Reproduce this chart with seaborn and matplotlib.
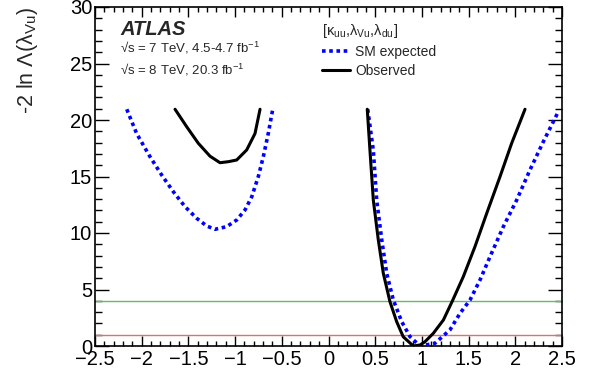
import matplotlib
matplotlib.use("Agg")
import matplotlib.pyplot as plt
import seaborn as sns
import pandas as pd
from matplotlib.ticker import MultipleLocator, FuncFormatter
from matplotlib.lines import Line2D

# ---- data ----
exp_left_x = [-2.16, -2.054, -1.911, -1.786, -1.662, -1.536, -1.411, -1.304, -1.215, -1.09, -0.983,
              -0.894, -0.822, -0.752, -0.698, -0.645, -0.597]
exp_left_y = [20.95, 18.8, 16.75, 15.13, 13.66, 12.33, 11.3, 10.62, 10.33, 10.56, 11.15,
              12.04, 13.2, 14.98, 16.75, 18.8, 20.95]
obs_left_x = [-1.643, -1.518, -1.394, -1.269, -1.162, -1.073, -0.983, -0.876, -0.787, -0.733]
obs_left_y = [20.95, 19.4, 17.94, 16.8, 16.22, 16.31, 16.46, 17.35, 18.8, 20.95]
obs_right_x = [0.415, 0.444, 0.48, 0.533, 0.587, 0.658, 0.73, 0.80, 0.908, 0.98, 1.033, 1.122,
               1.23, 1.326, 1.443, 1.568, 1.694, 1.836, 1.961, 2.104]
obs_right_y = [20.95, 17.3, 12.9, 9.4, 6.43, 3.92, 2.15, 0.82, 0.0, 0.09, 0.38, 1.12,
               2.3, 3.98, 6.13, 8.79, 11.74, 14.98, 17.94, 20.95]
exp_right_x = [0.42, 0.48, 0.516, 0.57, 0.623, 0.694, 0.784, 0.873, 0.98, 1.14, 1.30, 1.408,
               1.515, 1.622, 1.729, 1.872, 2.015, 2.157, 2.30, 2.46]
exp_right_y = [20.95, 17.3, 12.9, 9.4, 6.43, 4.07, 2.15, 0.82, 0.0, 0.24, 1.42, 2.89,
               4.07, 5.84, 7.9, 10.56, 12.92, 15.58, 18.08, 20.73]
thresholds = [4.0, 1.0]
threshold_colors = ["#5cc05c", "#e07070"]
x_range = (-2.5, 2.5)
y_range = (0, 30)

sns.set_style("ticks")
plt.rcParams["font.family"] = ["Liberation Sans", "DejaVu Sans"]
plt.rcParams["mathtext.fontset"] = "custom"
plt.rcParams["mathtext.rm"] = "Liberation Sans"
plt.rcParams["mathtext.it"] = "Liberation Sans:italic"
plt.rcParams["mathtext.bf"] = "Liberation Sans:bold"
plt.rcParams["lines.solid_joinstyle"] = "round"
plt.rcParams["lines.dash_joinstyle"] = "round"

fig = plt.figure(figsize=(5.92, 3.86), dpi=100)
ax = fig.add_axes([95/592, 1-346/386, (562-95)/592, (346-7)/386])

segs = [
    (exp_left_x, exp_left_y, "exp"), (exp_right_x, exp_right_y, "exp"),
    (obs_left_x, obs_left_y, "obs"), (obs_right_x, obs_right_y, "obs"),
]
for y, c in zip(thresholds, threshold_colors):
    ax.axhline(y, color=c, lw=1.0, zorder=1)
for xs, ys, kind in segs:
    df = pd.DataFrame({"x": xs, "y": ys})
    if kind == "exp":
        sns.lineplot(data=df, x="x", y="y", ax=ax, color="#0000ff", lw=2.6,
                     linestyle=(0, (1, 1)), sort=False, estimator=None, zorder=3)
    else:
        sns.lineplot(data=df, x="x", y="y", ax=ax, color="black", lw=2.2,
                     sort=False, estimator=None, zorder=4)

ax.set_xlim(*x_range)
ax.set_ylim(*y_range)
ax.xaxis.set_major_locator(MultipleLocator(0.5))
ax.xaxis.set_minor_locator(MultipleLocator(0.1))
ax.yaxis.set_major_locator(MultipleLocator(5))
ax.yaxis.set_minor_locator(MultipleLocator(1))
fmt = FuncFormatter(lambda v, p: ("%g" % v).replace("-", "\u2212"))
ax.xaxis.set_major_formatter(fmt)
ax.yaxis.set_major_formatter(fmt)
ax.tick_params(axis="both", which="both", direction="in", top=True, right=True,
               labelsize=14.5, colors="black")
ax.tick_params(axis="x", which="major", length=7, width=1, pad=3)
ax.tick_params(axis="x", which="minor", length=3.5, width=1)
ax.tick_params(axis="y", which="major", length=10, width=1, pad=2)
ax.tick_params(axis="y", which="minor", length=5, width=1)
for s in ax.spines.values():
    s.set_linewidth(1.2)
    s.set_color("black")
ax.set_xlabel("")
ax.set_ylabel("-2 ln Λ(λ$_{\\mathrm{Vu}}$)", fontsize=15.5, loc="top")
ax.yaxis.set_label_coords(-0.118, 1.0)

ax.text(120/592, 1-35/386, "ATLAS", transform=fig.transFigure, fontsize=14.5,
        fontweight="bold", fontstyle="italic", ha="left", va="baseline")
ax.text(120/592, 1-53/386, "√s = 7 TeV, 4.5-4.7 fb$^{-1}$", transform=fig.transFigure,
        fontsize=9.5, ha="left", va="baseline")
ax.text(120/592, 1-75/386, "√s = 8 TeV, 20.3 fb$^{-1}$", transform=fig.transFigure,
        fontsize=9.5, ha="left", va="baseline")

handles = [Line2D([], [], color="#0000ff", lw=2.6, linestyle=(0, (1, 1))),
           Line2D([], [], color="black", lw=2.2)]
leg = ax.legend(handles, ["SM expected", "Observed"], loc="upper left",
                bbox_to_anchor=(322/592, 1-22/386), bbox_transform=fig.transFigure,
                frameon=False, fontsize=10, handlelength=2.0, handletextpad=0.4,
                labelspacing=0.35, borderpad=0.0, borderaxespad=0.0,
                title="[κ$_{\\mathrm{uu}}$,λ$_{\\mathrm{Vu}}$,λ$_{\\mathrm{du}}$]",
                title_fontsize=10.5, alignment="left")

fig.savefig("out.png", dpi=100)
